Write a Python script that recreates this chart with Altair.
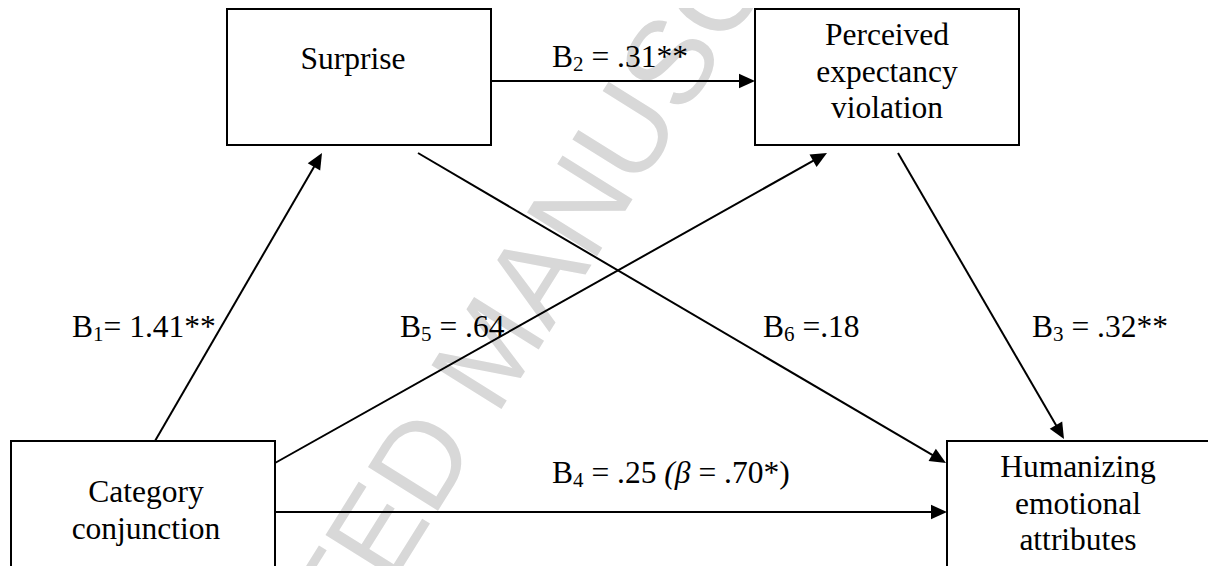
import math
import altair as alt
import pandas as pd

# ---------------- data ----------------
node_lines = [["Surprise"],
              ["Perceived", "expectancy", "violation"],
              ["Category", "conjunction"],
              ["Humanizing", "emotional", "attributes"]]
box_left = [227, 755, 11, 947]
box_right = [491, 1019, 275, 1210]
box_top = [9, 9, 441, 441]
box_bottom = [145, 145, 572, 572]
text_center = [353, 887, 146, 1078]
text_first_baseline = [69, 45, 502, 477]
LINE_GAP = 36.5

path_sub = ["1", "2", "3", "4", "5", "6"]
path_text = ["= 1.41**", " = .31**", " = .32**", " = .25 ", " = .64", " =.18"]
path_x0 = [155, 491, 898, 275, 275, 418]
path_y0 = [441, 81, 153, 512, 463, 153]
path_x1 = [322, 755, 1064, 947, 827, 946]
path_y1 = [153, 81, 439, 512, 153, 463]
label_x = [72, 552, 1032, 552, 400, 763]
label_y = [337, 67, 337, 483, 337, 337]
beta_italic = "(\u03b2"
beta_rest = " = .70*)"

watermark = "ACCEPTED MANUSCRIPT"
wm_x, wm_y, wm_angle = 494, 353, 302

# ---------------- helpers ----------------
FS = 31.5
SUB_FS = 21
W = {"B": .667, " ": .25, "=": .564, ".": .25, "*": .5, "(": .333, ")": .333, "\u03b2": .5}
def width(s, fs):
    return sum(W.get(c, .5) for c in s) * fs

def piece(x, y, s, fs):
    """SVG collapses leading whitespace: shift the start instead."""
    stripped = s.lstrip(" ")
    lead = len(s) - len(stripped)
    return {"x": x + lead * W[" "] * fs, "y": y, "t": stripped.rstrip(" ")}

FONT = "Liberation Serif"
X = lambda f: alt.X(f, type="quantitative", scale=alt.Scale(domain=[8, 1208], nice=False, zero=False), axis=None)
Y = lambda f: alt.Y(f, type="quantitative", scale=alt.Scale(domain=[8, 566], nice=False, zero=False, reverse=True), axis=None)

# boxes
boxes = pd.DataFrame({"x": box_left, "x2": box_right, "y": box_top, "y2": box_bottom})
box_layer = alt.Chart(boxes).mark_rect(fill="white", fillOpacity=0, stroke="black", strokeWidth=2, clip=True).encode(
    x=X("x"), x2="x2", y=Y("y"), y2="y2")

# node texts
rows = []
for i, lines in enumerate(node_lines):
    for j, t in enumerate(lines):
        rows.append({"x": text_center[i], "y": text_first_baseline[i] + j * LINE_GAP, "t": t})
node_text = alt.Chart(pd.DataFrame(rows)).mark_text(font=FONT, fontSize=FS, align="center", baseline="alphabetic", color="black", clip=True).encode(
    x=X("x"), y=Y("y"), text="t:N")

# paths
SHORT = 12
prow = []
for i in range(len(path_sub)):
    dx, dy = path_x1[i] - path_x0[i], path_y1[i] - path_y0[i]
    L = math.hypot(dx, dy)
    ux, uy = dx / L, dy / L
    prow.append({"x": path_x0[i], "y": path_y0[i],
                 "x2": path_x1[i] - ux * SHORT, "y2": path_y1[i] - uy * SHORT,
                 "tx": path_x1[i], "ty": path_y1[i],
                 "ang": math.degrees(math.atan2(dy, dx)) % 360})
pdf = pd.DataFrame(prow)
lines_layer = alt.Chart(pdf).mark_rule(color="black", strokeWidth=2).encode(
    x=X("x"), y=Y("y"), x2="x2", y2="y2")
heads = alt.Chart(pdf).mark_point(shape="M0,0L-2,-0.9L-2,0.9Z", filled=True, color="black", opacity=1, size=256, strokeWidth=0).encode(
    x=X("tx"), y=Y("ty"), angle=alt.Angle("ang:Q", scale=None))

# path labels
lrow_main, lrow_sub, lrow_ital = [], [], []
for i in range(len(path_sub)):
    x0, y0 = label_x[i], label_y[i]
    lrow_main.append(piece(x0, y0, "B", FS))
    xs = x0 + width("B", FS)
    lrow_sub.append(piece(xs, y0 + 4, path_sub[i], SUB_FS))
    xr = xs + width(path_sub[i], SUB_FS)
    lrow_main.append(piece(xr, y0, path_text[i], FS))
    if path_sub[i] == "4":
        xi = xr + width(path_text[i], FS)
        lrow_ital.append(piece(xi, y0, beta_italic, FS))
        lrow_main.append(piece(xi + width(beta_italic, FS), y0, beta_rest, FS))

lab_main = alt.Chart(pd.DataFrame(lrow_main)).mark_text(font=FONT, fontSize=FS, align="left", baseline="alphabetic", color="black").encode(
    x=X("x"), y=Y("y"), text="t:N")
lab_sub = alt.Chart(pd.DataFrame(lrow_sub)).mark_text(font=FONT, fontSize=SUB_FS, align="left", baseline="alphabetic", color="black").encode(
    x=X("x"), y=Y("y"), text="t:N")
lab_ital = alt.Chart(pd.DataFrame(lrow_ital)).mark_text(font=FONT, fontSize=FS, fontStyle="italic", align="left", baseline="alphabetic", color="black").encode(
    x=X("x"), y=Y("y"), text="t:N")

wm = alt.Chart(pd.DataFrame({"x": [wm_x], "y": [wm_y], "t": [watermark]})).mark_text(
    font="Liberation Sans", fontSize=120, color="#d8d8d8", align="center", baseline="middle", angle=wm_angle, clip=True).encode(
    x=X("x"), y=Y("y"), text="t:N")

chart = alt.layer(wm, box_layer, lines_layer, heads, node_text, lab_main, lab_sub, lab_ital).properties(
    width=1200, height=558, padding=0, background="white"
).configure_view(stroke=None)

chart.save("out.html", embed_options={"renderer": "svg", "actions": False})
